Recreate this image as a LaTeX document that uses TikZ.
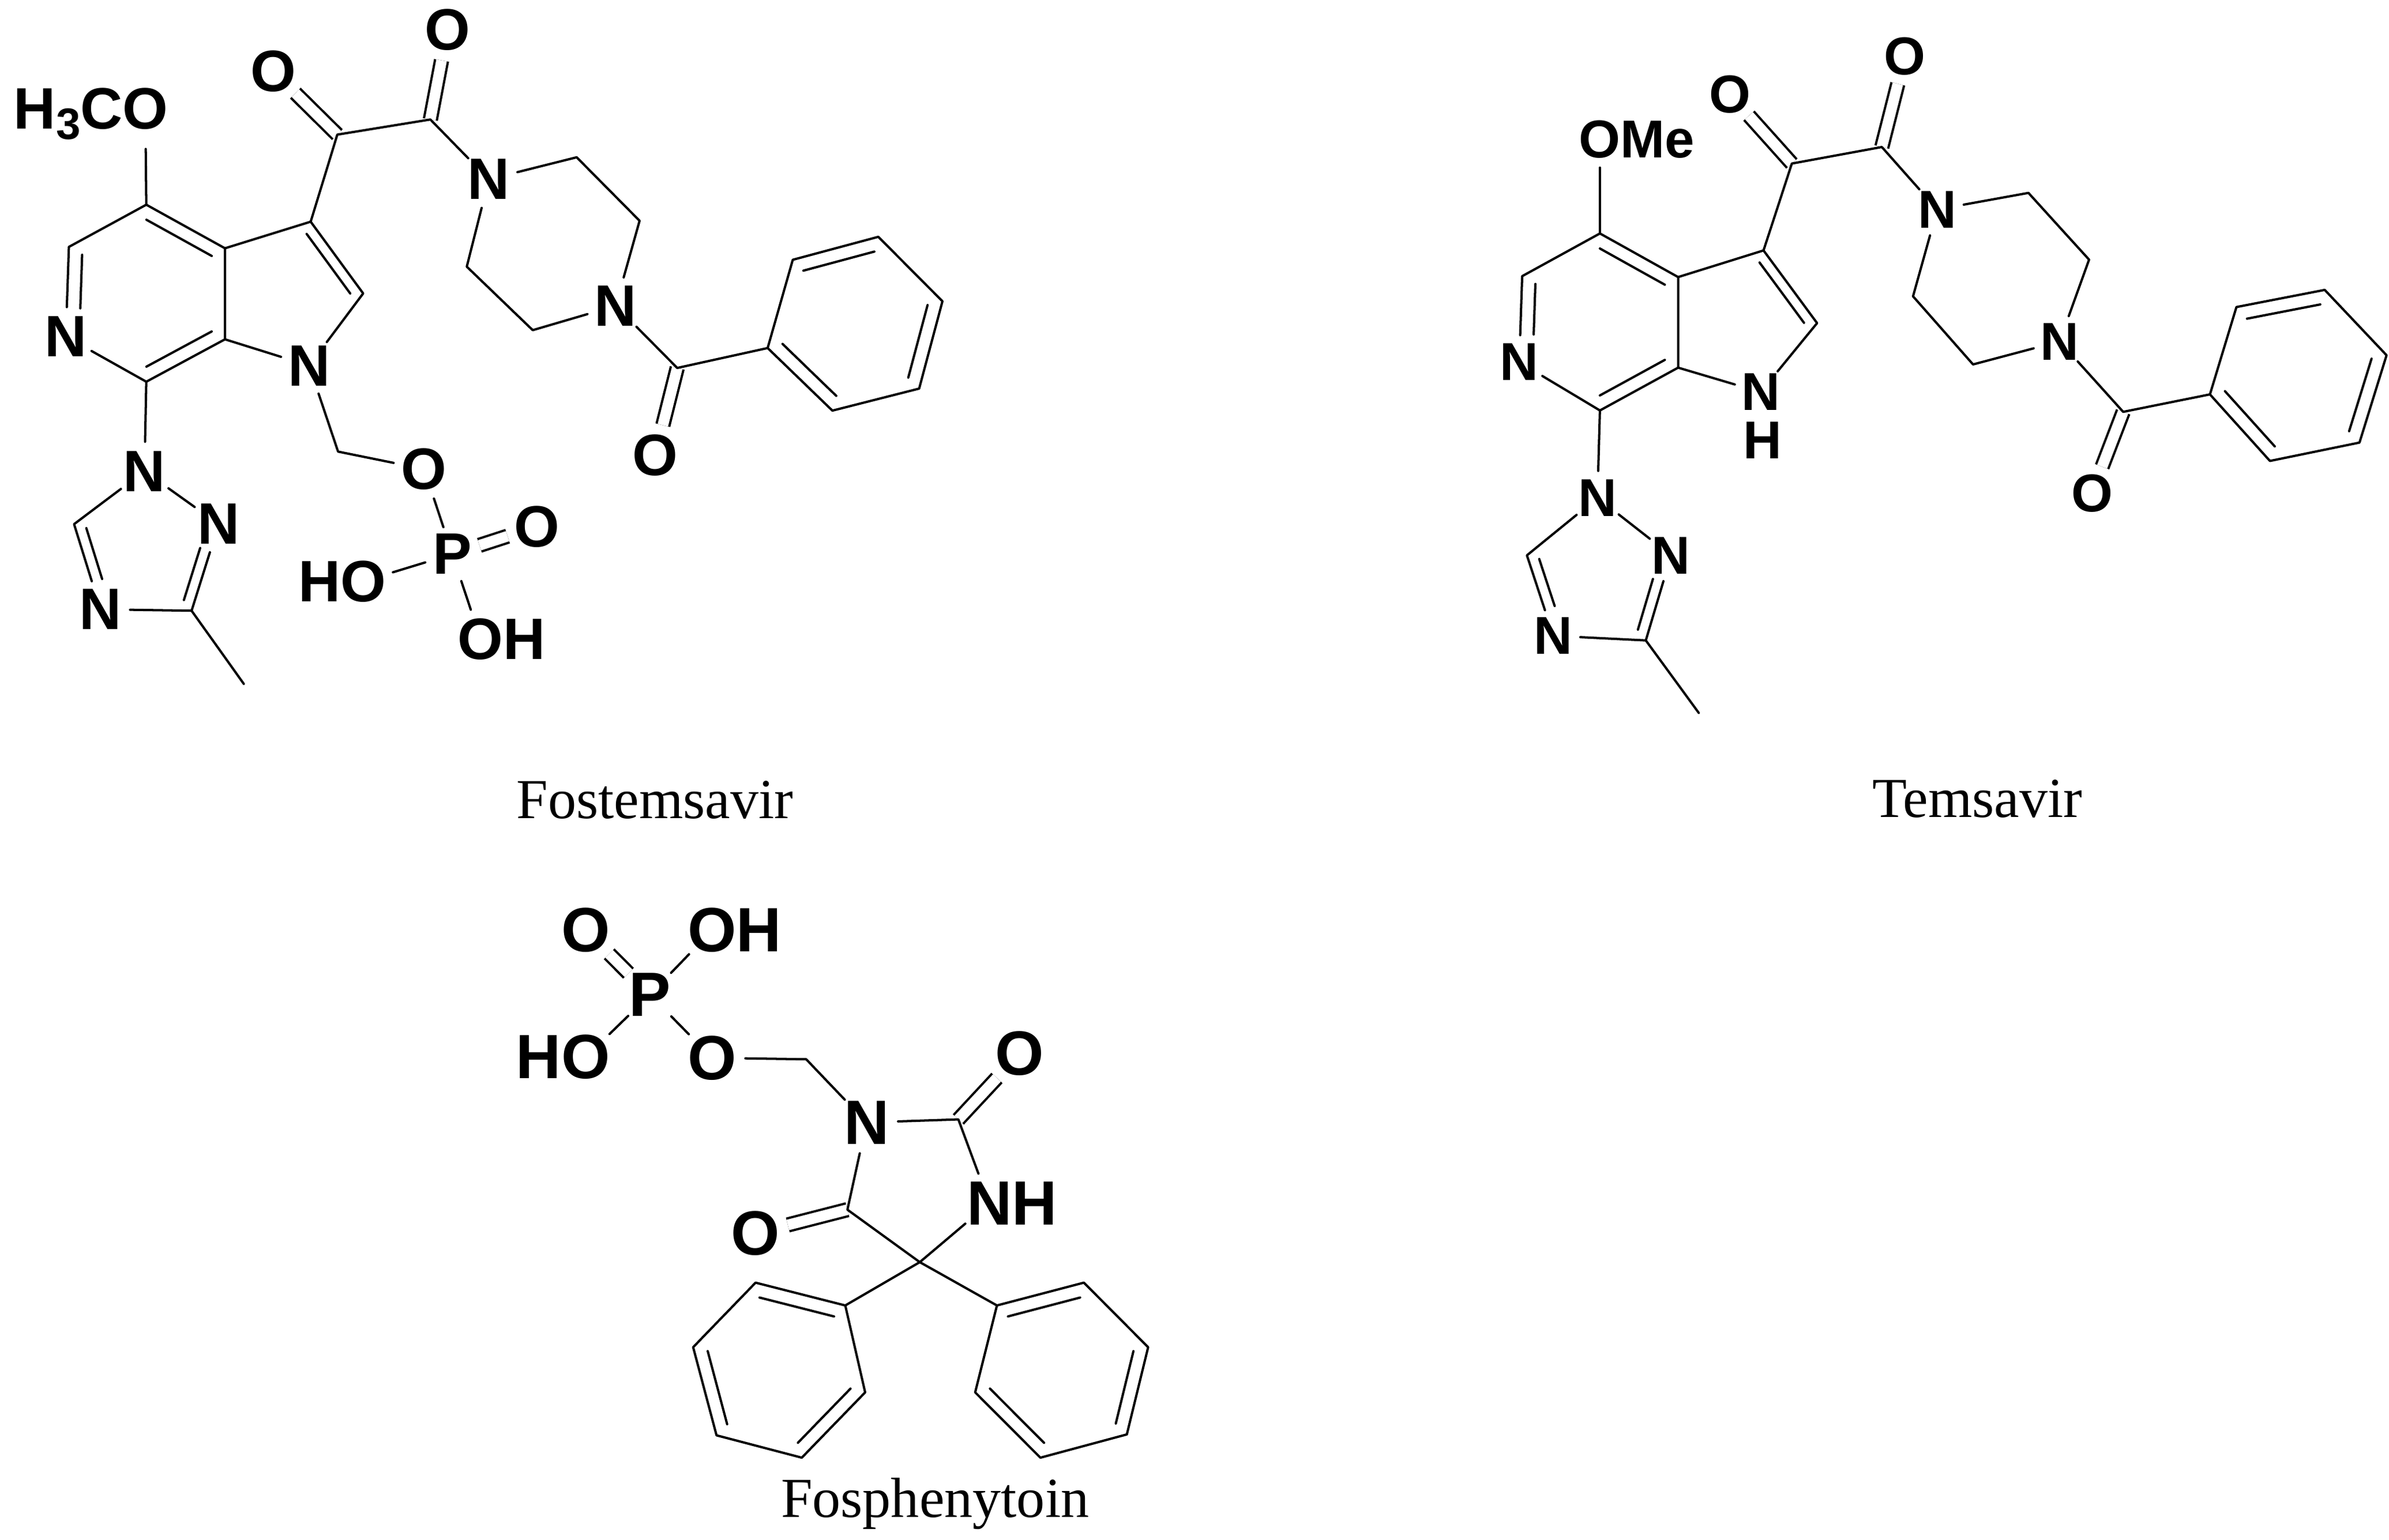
\documentclass[tikz,border=0pt]{standalone}
\usepackage{fontspec}
\setmainfont{Liberation Serif}
\newfontfamily\atomfont{Liberation Sans}
\usetikzlibrary{calc}

\tikzset{
    atom/.style={circle, inner sep=0pt, font=\atomfont\bfseries\fontsize{\atomsz}{\atomsz}\selectfont},
    bond/.style={draw, line width=1pt, line cap=round, line join=round},
    dblbond/.style={draw, line width=1pt, double, double distance=4.6pt},
    drugname/.style={font=\fontsize{24.4}{24.4}\selectfont}
}
\newcommand{\ringdbl}[4][]{\draw[bond, #1] ($(#2)!.17!(#4)$) -- ($(#3)!.17!(#4)$);}

\begin{document}
\begin{tikzpicture}[x=0.66pt, y=-0.66pt]
    \useasboundingbox (0, 0) rectangle (1561, 1006.6);

    % Fostemsavir
    \begin{scope}
        \def\atomsz{25.2}
        \coordinate (fC4) at (95.6, 133.8);
        \coordinate (fC5) at (45, 161.4);
        \coordinate (fC7) at (95.6, 249.5);
        \coordinate (fC7a) at (147, 221.8);
        \coordinate (fC3a) at (147, 162.3);
        \coordinate (fC3) at (203, 144.9);
        \coordinate (fC2) at (237.3, 191.8);
        \coordinate (fCa) at (220.4, 88);
        \coordinate (fCb) at (281.2, 78.1);
        \coordinate (fP1) at (376.8, 102.8);
        \coordinate (fP2) at (417.9, 144.3);
        \coordinate (fP3) at (348.1, 215.8);
        \coordinate (fP4) at (305, 174.3);
        \coordinate (fCc) at (442.5, 240.5);
        \coordinate (fPh1) at (501.6, 227.5);
        \coordinate (fPh2) at (518, 169.8);
        \coordinate (fPh3) at (573.9, 154.8);
        \coordinate (fPh4) at (615.8, 196.9);
        \coordinate (fPh5) at (600.6, 254);
        \coordinate (fPh6) at (543.9, 268.4);
        \coordinate (fT5) at (48.4, 342.6);
        \coordinate (fT3) at (125.2, 399.2);
        \coordinate (fMe) at (159.3, 447);
        \coordinate (fCH) at (220.9, 295.2);
        \coordinate (fPyr) at (96, 191.6);
        \coordinate (fPent) at (187.6, 192);
        \coordinate (fTri) at (95.6, 358);
        \coordinate (fBenz) at (558.7, 211.6);

        \node[atom] (fOMe) at (95, 74.5) {\llap{H\raisebox{-.35ex}{\fontsize{19}{19}\selectfont 3}C}O};
        \node[atom] (fN6) at (43, 220) {N};
        \node[atom] (fN1) at (202, 239) {N};
        \node[atom] (fOa) at (178.6, 46.6) {O};
        \node[atom] (fOb) at (292.3, 19.5) {O};
        \node[atom] (fNa) at (319.4, 117.2) {N};
        \node[atom] (fNb) at (402.3, 199.9) {N};
        \node[atom] (fOc) at (428.2, 297.6) {O};
        \node[atom] (fT1) at (94.4, 308) {N};
        \node[atom] (fT4) at (65.7, 398.3) {N};
        \node[atom] (fT2) at (142.9, 342.6) {N};
        \node[atom] (fO) at (277.1, 306.6) {O};
        \node[atom] (fPh) at (295.6, 362.2) {P};
        \node[atom] (fOd) at (351, 344.2) {O};
        \node[atom] (fOH1) at (237.3, 380) {\llap{H}O};
        \node[atom] (fOH2) at (314, 417.8) {O\rlap{H}};

        \draw[dblbond] (fCa) to (fOa);
        \draw[dblbond] (fCb) to (fOb);
        \draw[dblbond] (fCc) to (fOc);
        \draw[dblbond] (fPh) to (fOd);

        \draw[bond] (fOMe) to (fC4);
        \draw[bond] (fC4) -- (fC5) -- (fN6);
        \draw[bond] (fN6) -- (fC7) -- (fC7a) -- (fC3a) -- (fC4);
        \draw[bond] (fC3a) -- (fC3) -- (fC2) -- (fN1) -- (fC7a);
        \draw[bond] (fC3) -- (fCa) -- (fCb) -- (fNa);
        \draw[bond] (fNa) -- (fP1) -- (fP2) -- (fNb) -- (fP3) -- (fP4) -- (fNa);
        \draw[bond] (fNb) -- (fCc) -- (fPh1);
        \draw[bond] (fPh1) -- (fPh2) -- (fPh3) -- (fPh4) -- (fPh5) -- (fPh6) -- cycle;
        \draw[bond] (fC7) -- (fT1) -- (fT5) -- (fT4) -- (fT3) -- (fT2) -- (fT1);
        \draw[bond] (fT3) -- (fMe);
        \draw[bond] (fN1) -- (fCH) -- (fO) -- (fPh);
        \draw[bond] (fOH1) -- (fPh) -- (fOH2);

        \ringdbl{fC4}{fC3a}{fPyr}
        \ringdbl[shorten >=9pt]{fC5}{fN6}{fPyr}
        \ringdbl{fC7}{fC7a}{fPyr}
        \ringdbl{fC3}{fC2}{fPent}
        \ringdbl{fPh2}{fPh3}{fBenz}
        \ringdbl{fPh4}{fPh5}{fBenz}
        \ringdbl{fPh1}{fPh6}{fBenz}
        \ringdbl[shorten >=9pt]{fT5}{fT4}{fTri}
        \ringdbl[shorten >=9pt]{fT3}{fT2}{fTri}

        \node[drugname] (fName) at (428, 523) {Fostemsavir};
    \end{scope}

    % Temsavir
    \begin{scope}
        \def\atomsz{23}
        \coordinate (tC4) at (1045.4, 152.6);
        \coordinate (tC5) at (994.6, 180.5);
        \coordinate (tC7) at (1045.4, 268.3);
        \coordinate (tC7a) at (1096.5, 240.3);
        \coordinate (tC3a) at (1096.5, 181.1);
        \coordinate (tC3) at (1152.3, 163.7);
        \coordinate (tC2) at (1187.3, 211.2);
        \coordinate (tCa) at (1170.8, 106.9);
        \coordinate (tCb) at (1229.6, 96.1);
        \coordinate (tP1) at (1325.4, 126.1);
        \coordinate (tP2) at (1365, 169.7);
        \coordinate (tP3) at (1289.2, 238.2);
        \coordinate (tP4) at (1250, 193.7);
        \coordinate (tCc) at (1387.3, 269.2);
        \coordinate (tPh1) at (1444, 257.8);
        \coordinate (tPh2) at (1461.3, 200.7);
        \coordinate (tPh3) at (1519, 189.5);
        \coordinate (tPh4) at (1559.4, 232.2);
        \coordinate (tPh5) at (1541.7, 289.3);
        \coordinate (tPh6) at (1483.2, 301.3);
        \coordinate (tT5) at (997.7, 363);
        \coordinate (tT3) at (1075.4, 418.6);
        \coordinate (tMe) at (1110, 466);
        \coordinate (tPyr) at (1045.4, 210.5);
        \coordinate (tPent) at (1137, 210);
        \coordinate (tTri) at (1045, 377);
        \coordinate (tBenz) at (1501.8, 245.4);

        \node[atom] (tOMe) at (1045.4, 91) {O\rlap{Me}};
        \node[atom] (tN6) at (992.7, 236.7) {N};
        \node[atom] (tN1) at (1150.4, 256.3) {N};
        \node[atom] (tH1) at (1151.5, 287.8) {H};
        \node[atom] (tOa) at (1130.4, 61.8) {O};
        \node[atom] (tOb) at (1244.6, 36.8) {O};
        \node[atom] (tNa) at (1265.8, 136.9) {N};
        \node[atom] (tNb) at (1345.8, 223.2) {N};
        \node[atom] (tOc) at (1366.9, 322.4) {O};
        \node[atom] (tT1) at (1043.8, 325.4) {N};
        \node[atom] (tT4) at (1015, 415.6) {N};
        \node[atom] (tT2) at (1091.9, 363) {N};

        \draw[dblbond] (tCa) to (tOa);
        \draw[dblbond] (tCb) to (tOb);
        \draw[dblbond] (tCc) to (tOc);

        \draw[bond] (tOMe) to (tC4);
        \draw[bond] (tC4) -- (tC5) -- (tN6);
        \draw[bond] (tN6) -- (tC7) -- (tC7a) -- (tC3a) -- (tC4);
        \draw[bond] (tC3a) -- (tC3) -- (tC2) -- (tN1) -- (tC7a);
        \draw[bond] (tC3) -- (tCa) -- (tCb) -- (tNa);
        \draw[bond] (tNa) -- (tP1) -- (tP2) -- (tNb) -- (tP3) -- (tP4) -- (tNa);
        \draw[bond] (tNb) -- (tCc) -- (tPh1);
        \draw[bond] (tPh1) -- (tPh2) -- (tPh3) -- (tPh4) -- (tPh5) -- (tPh6) -- cycle;
        \draw[bond] (tC7) -- (tT1) -- (tT5) -- (tT4) -- (tT3) -- (tT2) -- (tT1);
        \draw[bond] (tT3) -- (tMe);

        \ringdbl{tC4}{tC3a}{tPyr}
        \ringdbl[shorten >=9pt]{tC5}{tN6}{tPyr}
        \ringdbl{tC7}{tC7a}{tPyr}
        \ringdbl{tC3}{tC2}{tPent}
        \ringdbl{tPh2}{tPh3}{tBenz}
        \ringdbl{tPh4}{tPh5}{tBenz}
        \ringdbl{tPh1}{tPh6}{tBenz}
        \ringdbl[shorten >=9pt]{tT5}{tT4}{tTri}
        \ringdbl[shorten >=9pt]{tT3}{tT2}{tTri}

        \node[drugname] (tName) at (1292, 522) {Temsavir};
    \end{scope}

    % Fosphenytoin
    \begin{scope}
        \def\atomsz{27}
        \coordinate (pCH) at (526.8, 692.4);
        \coordinate (pC2) at (626.2, 731.7);
        \coordinate (pC5) at (601, 825);
        \coordinate (pC4) at (553.7, 790.7);
        \coordinate (pA1) at (552.3, 853.3);
        \coordinate (pA2) at (493.7, 838.4);
        \coordinate (pA3) at (452.9, 880.6);
        \coordinate (pA4) at (468.2, 938.2);
        \coordinate (pA5) at (523.9, 952.8);
        \coordinate (pA6) at (565.3, 910.1);
        \coordinate (pB1) at (651.4, 853.3);
        \coordinate (pB2) at (708.2, 838.4);
        \coordinate (pB3) at (750.2, 880.6);
        \coordinate (pB4) at (736.3, 937.6);
        \coordinate (pB5) at (679.8, 952.8);
        \coordinate (pB6) at (637.2, 910.1);
        \coordinate (pAc) at (509, 895.6);
        \coordinate (pBc) at (693.8, 895.6);

        \node[atom] (pOd) at (382.7, 608.1) {O};
        \node[atom] (pOH1) at (465.3, 608.1) {O\rlap{H}};
        \node[atom] (pP) at (424.7, 650.2) {P};
        \node[atom] (pOH2) at (382.7, 691) {\llap{H}O};
        \node[atom] (pO) at (465.3, 691.5) {O};
        \node[atom] (pN1) at (566.2, 733.7) {N};
        \node[atom] (pOa) at (666.2, 688.7) {O};
        \node[atom] (pN3) at (646.5, 786.5) {N\rlap{H}};
        \node[atom] (pOb) at (493.7, 806.1) {O};

        \draw[dblbond] (pP) to (pOd);
        \draw[dblbond] (pC2) to (pOa);
        \draw[dblbond] (pC4) to (pOb);

        \draw[bond] (pP) -- (pOH1);
        \draw[bond] (pP) -- (pOH2);
        \draw[bond] (pP) -- (pO) -- (pCH) -- (pN1);
        \draw[bond] (pN1) -- (pC2) -- (pN3) -- (pC5) -- (pC4) -- (pN1);
        \draw[bond] (pC5) -- (pA1);
        \draw[bond] (pC5) -- (pB1);
        \draw[bond] (pA1) -- (pA2) -- (pA3) -- (pA4) -- (pA5) -- (pA6) -- cycle;
        \draw[bond] (pB1) -- (pB2) -- (pB3) -- (pB4) -- (pB5) -- (pB6) -- cycle;

        \ringdbl{pA1}{pA2}{pAc}
        \ringdbl{pA3}{pA4}{pAc}
        \ringdbl{pA5}{pA6}{pAc}
        \ringdbl{pB1}{pB2}{pBc}
        \ringdbl{pB3}{pB4}{pBc}
        \ringdbl{pB5}{pB6}{pBc}

        \node[drugname] (pName) at (611, 983) {Fosphenytoin};
    \end{scope}
\end{tikzpicture}
\end{document}
